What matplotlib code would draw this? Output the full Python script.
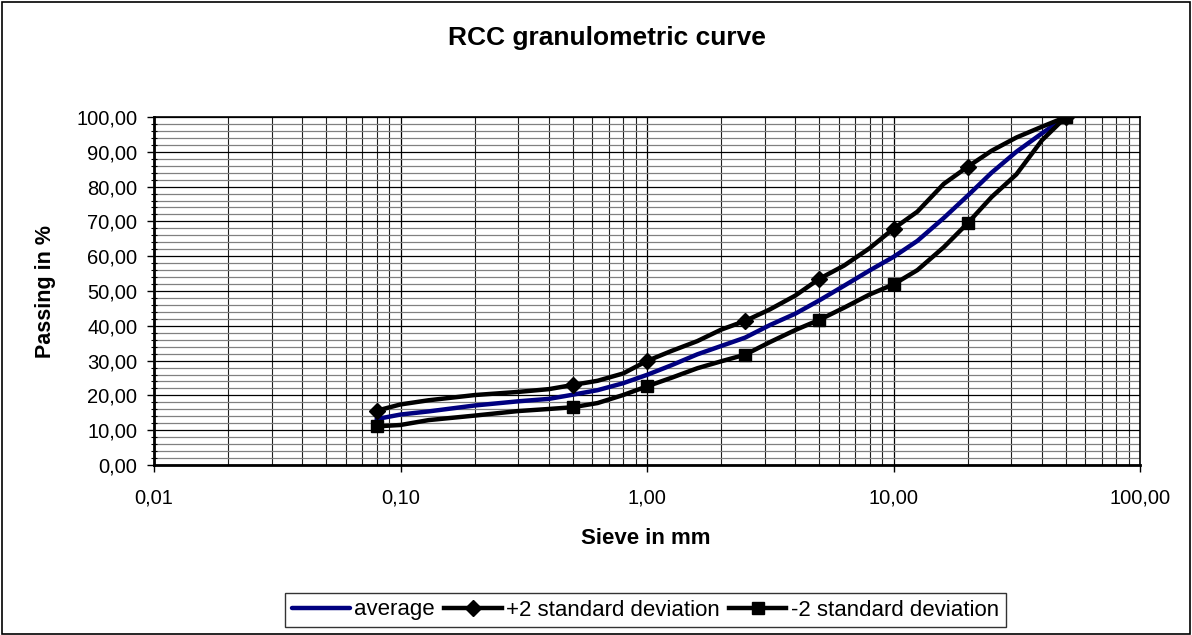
import matplotlib
matplotlib.use("Agg")
import matplotlib.pyplot as plt
import numpy as np
from matplotlib.ticker import FixedLocator, FuncFormatter, MultipleLocator, LogLocator

plt.rcParams['font.family'] = ['Liberation Sans', 'DejaVu Sans']

# sieve sizes (mm) at which the curves were read
sieve = [0.08, 0.1, 0.13, 0.2, 0.3, 0.4, 0.5, 0.63, 0.8, 1, 1.25, 1.6, 2, 2.5,
         3.15, 4, 5, 6.3, 8, 10, 12.5, 16, 20, 25, 31.5, 40, 50]
average = [13.2, 14.5, 15.4, 17.1, 18.3, 19.0, 20.2, 21.5, 23.5, 25.9, 28.6, 31.8,
           34.2, 36.6, 40.2, 43.5, 47.3, 51.5, 55.9, 59.8, 64.4, 71.0, 77.4, 84.0,
           90.0, 95.3, 100.0]
plus2 = [15.6, 17.4, 18.6, 20.1, 21.0, 21.8, 23.0, 24.2, 26.3, 29.9, 32.7, 35.6,
         38.9, 41.4, 44.7, 48.7, 53.5, 57.3, 62.3, 67.9, 72.8, 80.8, 85.7, 90.3,
         94.1, 97.2, 100.0]
minus2 = [11.1, 11.5, 12.9, 14.2, 15.5, 16.1, 16.6, 17.8, 20.1, 22.6, 25.0, 27.8,
          29.8, 31.7, 35.3, 38.8, 41.7, 45.2, 49.0, 51.9, 56.0, 62.6, 69.5, 77.0,
          83.5, 93.3, 100.0]
# sieves carrying a marker
marked_sieves = [0.08, 0.5, 1, 2.5, 5, 10, 20, 50]

x_ticks = [0.01, 0.1, 1, 10, 100]
y_ticks = [0, 10, 20, 30, 40, 50, 60, 70, 80, 90, 100]

title = "RCC granulometric curve"
xlabel = "Sieve in mm"
ylabel = "Passing in %"
labels = ["average", "+2 standard deviation", "-2 standard deviation"]

fig = plt.figure(figsize=(11.92, 6.35), dpi=100)
ax = fig.add_axes([154/1192, 1-465/635, 986/1192, 348/635])

mark_idx = [i for i, s in enumerate(sieve) if s in marked_sieves]

ax.plot(sieve, average, color='#000080', lw=3.2, label=labels[0], zorder=3,
        solid_capstyle='round', solid_joinstyle='round')
ax.plot(sieve, plus2, color='black', lw=3.2, marker='D', markersize=8.5,
        markevery=mark_idx, label=labels[1], zorder=4, solid_joinstyle='round')
ax.plot(sieve, minus2, color='black', lw=3.2, marker='s', markersize=9,
        markevery=mark_idx, label=labels[2], zorder=4, solid_joinstyle='round')

ax.set_xscale('log')
ax.set_xlim(0.01, 100)
ax.set_ylim(0, 100)

ax.xaxis.set_major_locator(FixedLocator(x_ticks))
ax.xaxis.set_minor_locator(LogLocator(base=10, subs=np.arange(2, 10), numticks=20))
ax.xaxis.set_major_formatter(FuncFormatter(lambda v, p: f"{v:.2f}".replace('.', ',')))
ax.xaxis.set_minor_formatter(FuncFormatter(lambda v, p: ""))
ax.yaxis.set_major_locator(FixedLocator(y_ticks))
ax.yaxis.set_minor_locator(MultipleLocator(2))
ax.yaxis.set_major_formatter(FuncFormatter(lambda v, p: f"{v:.2f}".replace('.', ',')))

ax.grid(which='major', axis='both', color='black', lw=0.9, zorder=0)
ax.grid(which='minor', axis='y', color='#808080', lw=0.9, zorder=0)
ax.grid(which='minor', axis='x', color='#202020', lw=0.8, zorder=0)
ax.set_axisbelow(True)

ax.tick_params(axis='both', which='major', direction='out', length=5, width=1,
               labelsize=14.5, color='black')
ax.tick_params(axis='y', which='major', pad=7)
ax.tick_params(axis='x', which='major', pad=12)
ax.tick_params(axis='x', which='minor', length=0)
ax.tick_params(axis='y', which='minor', direction='inout', length=5, width=0.8)
for sp in ax.spines.values():
    sp.set_color('black')
    sp.set_linewidth(1.2)
ax.spines['left'].set_linewidth(2)
ax.spines['bottom'].set_linewidth(2)

fig.text(607/1192, 1-38/635, title, ha='center', va='center', fontsize=19, fontweight='bold')
fig.text(646/1192, 1-539/635, xlabel, ha='center', va='center', fontsize=16, fontweight='bold')
fig.text(46/1192, 1-291/635, ylabel, ha='center', va='center', rotation=90,
         fontsize=15.5, fontweight='bold')

leg = fig.legend(loc='center', bbox_to_anchor=(645.5/1192, 1-610/635), ncol=3,
                 fontsize=16, frameon=True, fancybox=False, edgecolor='black',
                 handlelength=2.6, handletextpad=0.2, columnspacing=0.4,
                 borderpad=0.3, borderaxespad=0)
leg.get_frame().set_linewidth(1.0)

# figure border
fig.patches.append(plt.Rectangle((0.0015, 0.002), 0.997, 0.995, transform=fig.transFigure,
                                 fill=False, edgecolor='black', lw=1.2))

fig.savefig('out.png', dpi=100)
